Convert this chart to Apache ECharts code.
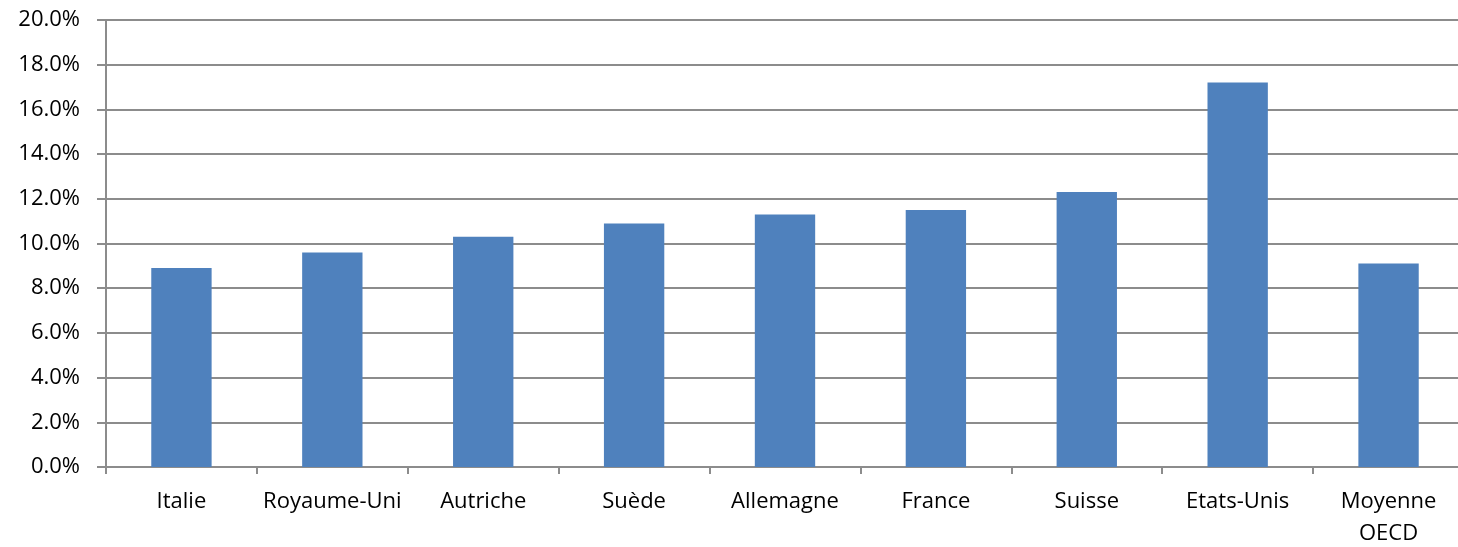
<!DOCTYPE html>
<html>
<head>
<meta charset="utf-8">
<script src="https://cdn.jsdelivr.net/npm/echarts@6/dist/echarts.min.js"></script>
<style>
  html, body { margin: 0; padding: 0; background: #fff; }
  #main { width: 1458px; height: 547px; }
</style>
</head>
<body>
<div id="main"></div>
<script>
// données
var categories = ['Italie', 'Royaume-Uni', 'Autriche', 'Suède', 'Allemagne', 'France', 'Suisse', 'Etats-Unis', 'Moyenne\nOECD'];
var values = [8.9, 9.6, 10.3, 10.9, 11.3, 11.5, 12.3, 17.2, 9.1];

var myChart = echarts.init(document.getElementById('main'));

var option = {
    animation: false,
    textStyle: { fontFamily: 'Open Sans' },
    grid: {
        left: 106,
        width: 1358,
        top: 20,
        height: 447,
        outerBoundsMode: 'none',
        containLabel: false
    },
    xAxis: {
        type: 'category',
        data: categories,
        axisLine: { lineStyle: { color: '#8c8c8c', width: 2 } },
        axisTick: { show: true, length: 7, lineStyle: { color: '#8c8c8c', width: 2 } },
        axisLabel: { color: '#000', fontSize: 22, margin: 19, lineHeight: 32, interval: 0 }
    },
    yAxis: {
        type: 'value',
        min: 0,
        max: 20,
        interval: 2,
        axisLine: { show: true, lineStyle: { color: '#8c8c8c', width: 2 } },
        axisTick: { show: true, length: 9, lineStyle: { color: '#8c8c8c', width: 2 } },
        splitLine: { lineStyle: { color: '#8c8c8c', width: 2 } },
        axisLabel: {
            color: '#000',
            fontSize: 22,
            margin: 26,
            formatter: function (v) { return v.toFixed(1) + '%'; }
        }
    },
    series: [
        {
            type: 'bar',
            data: values,
            barWidth: '40%',
            itemStyle: { color: '#4f81bd' }
        }
    ]
};

myChart.setOption(option);
</script>
</body>
</html>
